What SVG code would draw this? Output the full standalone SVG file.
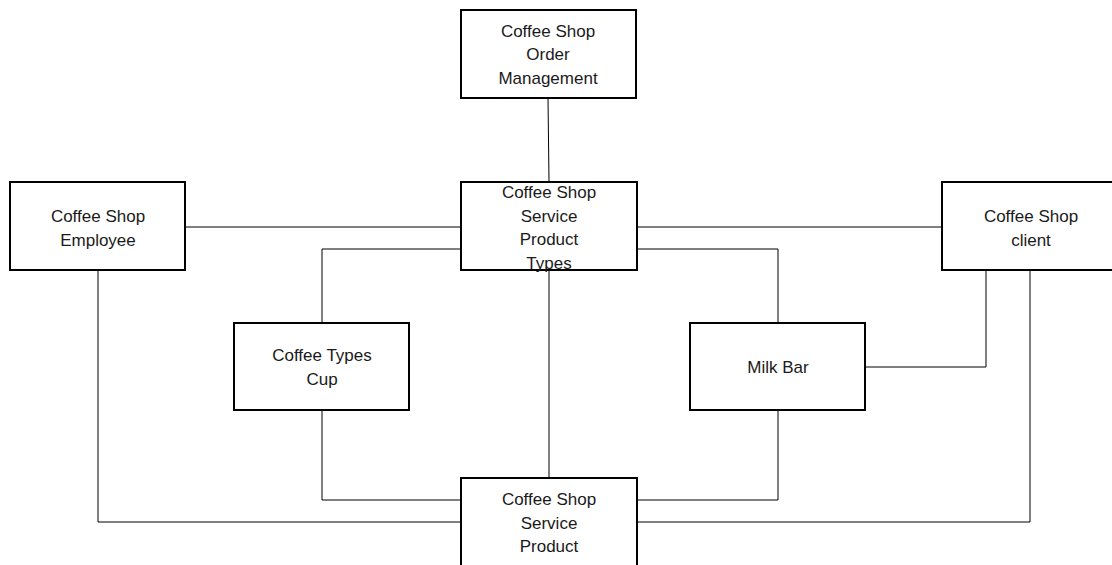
<svg xmlns="http://www.w3.org/2000/svg" width="1112" height="565" viewBox="0 0 1112 565">
<style>
.box{fill:#fff;stroke:#000;stroke-width:2}
.ln{fill:none;stroke:#000;stroke-width:1}
text{font-family:"Liberation Sans","Open Sans",sans-serif;font-size:17px;fill:#1a1a1a;text-anchor:middle}
</style>
<rect width="1112" height="565" fill="#fff"/>
<g id="connectors">
<path class="ln" d="M548,98 L549,182"/>
<path class="ln" d="M185,227 H461"/>
<path class="ln" d="M637,227 H942"/>
<path class="ln" d="M461,249 H322 V323"/>
<path class="ln" d="M637,249 H778 V323"/>
<path class="ln" d="M549,270 V478"/>
<path class="ln" d="M322,410 V500 H461"/>
<path class="ln" d="M778,410 V500 H637"/>
<path class="ln" d="M98,270 V522 H461"/>
<path class="ln" d="M1030,270 V522 H637"/>
<path class="ln" d="M986,270 V367 H865"/>
</g>
<g id="order">
<rect class="box" x="461" y="10" width="175" height="88"/>
<text x="548" y="37">Coffee Shop</text>
<text x="548" y="60">Order</text>
<text x="548" y="84">Management</text>
</g>
<g id="types">
<rect class="box" x="461" y="182" width="176" height="88"/>
<text x="549" y="198">Coffee Shop</text>
<text x="549" y="222">Service</text>
<text x="549" y="245">Product</text>
<text x="549" y="269">Types</text>
</g>
<g id="employee">
<rect class="box" x="10" y="182" width="175" height="88"/>
<text x="98" y="222">Coffee Shop</text>
<text x="98" y="246">Employee</text>
</g>
<g id="client">
<rect class="box" x="942" y="182" width="172" height="88"/>
<text x="1031" y="222">Coffee Shop</text>
<text x="1031" y="246">client</text>
</g>
<g id="cup">
<rect class="box" x="234" y="323" width="175" height="87"/>
<text x="322" y="361">Coffee Types</text>
<text x="322" y="385">Cup</text>
</g>
<g id="milk">
<rect class="box" x="690" y="323" width="175" height="87"/>
<text x="778" y="373">Milk Bar</text>
</g>
<g id="product">
<rect class="box" x="461" y="478" width="176" height="100"/>
<text x="549" y="505">Coffee Shop</text>
<text x="549" y="529">Service</text>
<text x="549" y="552">Product</text>
</g>
</svg>
